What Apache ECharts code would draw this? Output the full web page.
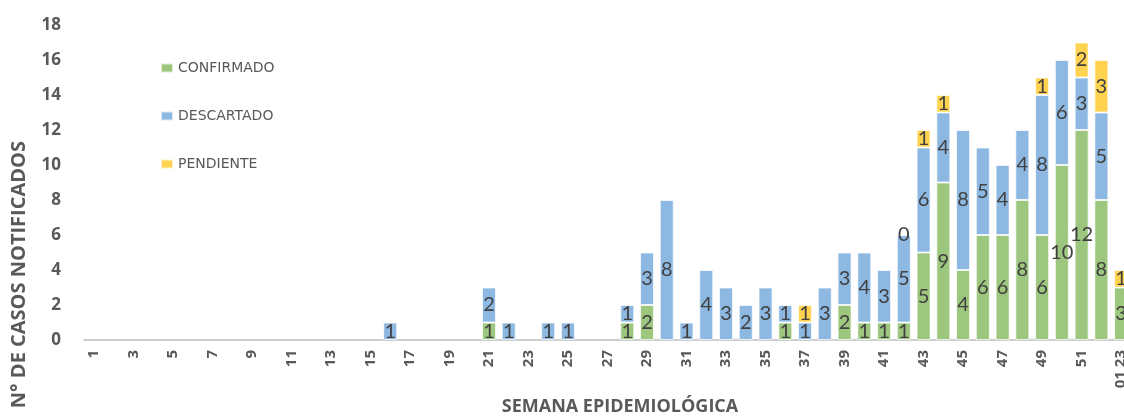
<!DOCTYPE html>
<html>
<head>
<meta charset="utf-8">
<script src="https://cdn.jsdelivr.net/npm/echarts@6/dist/echarts.min.js"></script>
<style>
  html, body { margin: 0; padding: 0; background: #fff; }
  #chart { width: 1124px; height: 416px; }
</style>
</head>
<body>
<div id="chart"></div>
<script>
// Epidemiological weeks 1..52 plus week 1 of 2023
const weeks = [];
for (let w = 1; w <= 52; w++) weeks.push(String(w));
weeks.push('01 23');

// Cases per week (null = no cases in that status)
const confirmado = [
  null, null, null, null, null, null, null, null, null, null,
  null, null, null, null, null, null, null, null, null, null,
  1, null, null, null, null, null, null, 1, 2, null,
  null, null, null, null, null, 1, null, null, 2, 1,
  1, 1, 5, 9, 4, 6, 6, 8, 6, 10,
  12, 8, 3
];
const descartado = [
  null, null, null, null, null, null, null, null, null, null,
  null, null, null, null, null, 1, null, null, null, null,
  2, 1, null, 1, 1, null, null, 1, 3, 8,
  1, 4, 3, 2, 3, 1, 1, 3, 3, 4,
  3, 5, 6, 4, 8, 5, 4, 4, 8, 6,
  3, 5, null
];
const pendiente = [
  null, null, null, null, null, null, null, null, null, null,
  null, null, null, null, null, null, null, null, null, null,
  null, null, null, null, null, null, null, null, null, null,
  null, null, null, null, null, null, 1, null, null, null,
  null, 0, 1, 1, null, null, null, null, 1, null,
  2, 3, 1
];

const yTicks = { min: 0, max: 18, step: 2 };

const chart = echarts.init(document.getElementById('chart'));

const labelStyle = {
  show: true,
  position: 'inside',
  color: '#404040',
  fontFamily: 'Lato',
  fontSize: 20,
  formatter: p => (p.value === null || p.value === undefined ? '' : String(p.value))
};

function barSeries(name, data, color) {
  return {
    name: name,
    type: 'bar',
    stack: 'casos',
    data: data,
    barWidth: 14,
    itemStyle: { color: color, borderColor: 'rgba(255,255,255,0.7)', borderWidth: 1 },
    label: labelStyle,
    emphasis: { disabled: true }
  };
}

chart.setOption({
  animation: false,
  textStyle: { fontFamily: 'Open Sans' },
  // plot runs slightly past the right edge, so the last week is cut
  grid: {
    left: 84, width: 1047, top: 25, height: 315,
    containLabel: false,
    outerBoundsMode: 'none'
  },
  legend: {
    orient: 'vertical',
    left: 155,
    top: 56,
    itemGap: 34,
    itemWidth: 12,
    itemHeight: 9,
    icon: 'rect',
    textStyle: { color: '#595959', fontFamily: 'DejaVu Sans', fontSize: 14 },
    data: ['CONFIRMADO', 'DESCARTADO', 'PENDIENTE']
  },
  xAxis: {
    type: 'category',
    data: weeks,
    axisLine: { lineStyle: { color: '#BFBFBF', width: 1.5 } },
    axisTick: { show: false },
    axisLabel: {
      interval: 1,
      rotate: 90,
      margin: 10,
      color: '#595959',
      fontWeight: 'bold',
      fontSize: 15,
      fontFamily: 'Open Sans'
    }
  },
  yAxis: {
    type: 'value',
    min: yTicks.min,
    max: yTicks.max,
    interval: yTicks.step,
    axisLine: { show: false },
    axisTick: { show: false },
    splitLine: { show: false },
    axisLabel: {
      margin: 23,
      color: '#595959',
      fontWeight: 'bold',
      fontSize: 17,
      fontFamily: 'Open Sans'
    }
  },
  graphic: [
    {
      type: 'text',
      x: 9,
      y: 141,
      rotation: Math.PI / 2,
      originX: 0,
      originY: 0,
      style: {
        text: 'N° DE CASOS NOTIFICADOS',
        fill: '#595959',
        font: 'bold 20px "Open Sans"',
        align: 'right',
        verticalAlign: 'top'
      }
    },
    {
      type: 'text',
      x: 620,
      y: 407,
      style: {
        text: 'SEMANA EPIDEMIOLÓGICA',
        fill: '#595959',
        font: 'bold 18px "Open Sans"',
        align: 'center',
        verticalAlign: 'middle'
      }
    }
  ],
  series: [
    barSeries('CONFIRMADO', confirmado, '#9DC67E'),
    barSeries('DESCARTADO', descartado, '#8DB8E2'),
    barSeries('PENDIENTE', pendiente, '#FFD34F')
  ]
});
</script>
</body>
</html>
